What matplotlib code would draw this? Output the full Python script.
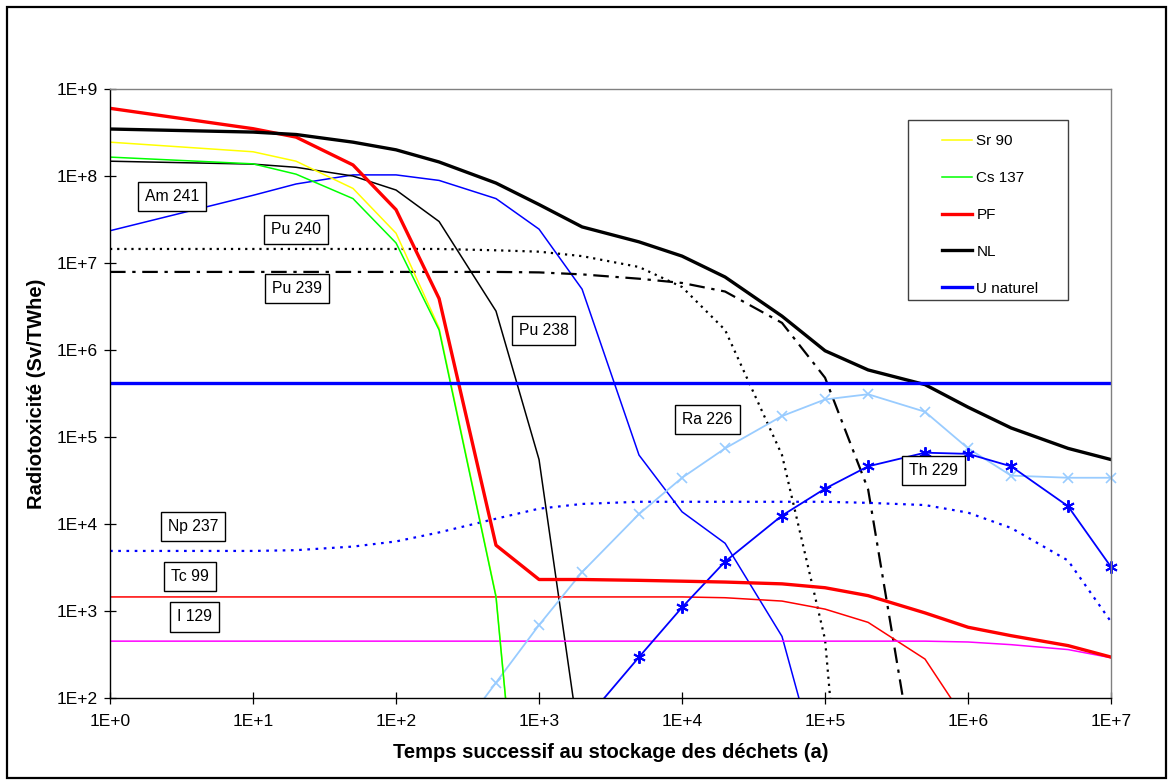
import numpy as np
import matplotlib
matplotlib.use("Agg")
import matplotlib.pyplot as plt
from matplotlib.patches import Rectangle

plt.rcParams['font.family'] = ['Liberation Sans', 'DejaVu Sans']

# Time after storage (years)
temps = [1, 10, 20, 50, 100, 200, 500, 1e3, 2e3, 5e3, 1e4, 2e4, 5e4,
         1e5, 2e5, 5e5, 1e6, 2e6, 5e6, 1e7]

# Radiotoxicity (Sv/TWhe)
sr90 = [2.45e8, 1.9e8, 1.48e8, 7.2e7, 2.2e7, 1.8e6, 1.5e3, 8e-3]
cs137 = [1.65e8, 1.38e8, 1.05e8, 5.5e7, 1.7e7, 1.7e6, 1.45e3, 8e-3]
pf = [6e8, 3.5e8, 2.8e8, 1.34e8, 4.1e7, 3.9e6, 5.7e3, 2.3e3, 2.3e3, 2.25e3,
      2.2e3, 2.15e3, 2.05e3, 1.85e3, 1.5e3, 9.5e2, 6.5e2, 5.2e2, 4e2, 2.95e2]
nl = [3.47e8, 3.2e8, 3.0e8, 2.45e8, 2.0e8, 1.45e8, 8.3e7, 4.7e7, 2.6e7,
      1.75e7, 1.2e7, 6.9e6, 2.45e6, 9.8e5, 5.9e5, 4e5, 2.2e5, 1.27e5, 7.4e4,
      5.5e4]
u_naturel = 4.2e5
am241 = [2.35e7, 6e7, 8.1e7, 1.03e8, 1.03e8, 8.9e7, 5.5e7, 2.45e7, 5e6,
         6.2e4, 1.38e4, 6e3, 5.1e2, 8]
pu238 = [1.48e8, 1.37e8, 1.26e8, 1e8, 6.9e7, 3e7, 2.8e6, 5.5e4, 1.9e1]
pu240 = [1.45e7, 1.45e7, 1.45e7, 1.45e7, 1.45e7, 1.45e7, 1.4e7, 1.35e7,
         1.2e7, 9e6, 5.3e6, 1.7e6, 6.2e4, 4.7e2, 1e-3]
pu239 = [7.9e6, 7.9e6, 7.9e6, 7.9e6, 7.9e6, 7.9e6, 7.9e6, 7.8e6, 7.4e6,
         6.6e6, 5.9e6, 4.7e6, 2.05e6, 4.8e5, 2.5e4, 3]
np237 = [4.9e3, 4.9e3, 5.0e3, 5.5e3, 6.3e3, 8e3, 1.15e4, 1.5e4, 1.7e4,
         1.8e4, 1.8e4, 1.8e4, 1.8e4, 1.8e4, 1.75e4, 1.65e4, 1.35e4, 9e3,
         3.8e3, 7.5e2]
tc99 = [1.45e3] * 11 + [1.42e3, 1.3e3, 1.05e3, 7.4e2, 2.8e2, 5e1]
i129 = [4.5e2] * 16 + [4.4e2, 4.1e2, 3.6e2, 2.9e2]
ra226 = [2e1, 1.5e2, 6.9e2, 2.8e3, 1.3e4, 3.4e4, 7.4e4, 1.74e5, 2.7e5,
         3.1e5, 1.95e5, 7.4e4, 3.6e4, 3.4e4, 3.4e4]
th229 = [5e1, 2.95e2, 1.1e3, 3.7e3, 1.25e4, 2.55e4, 4.6e4, 6.6e4, 6.4e4,
         4.6e4, 1.6e4, 3.2e3]

tick_vals_x = [1e0, 1e1, 1e2, 1e3, 1e4, 1e5, 1e6, 1e7]
tick_vals_y = [1e2, 1e3, 1e4, 1e5, 1e6, 1e7, 1e8, 1e9]

fig = plt.figure(figsize=(11.73, 7.83), dpi=100)
ax = fig.add_axes([0.0938, 0.1086, 0.8534, 0.7777])

# unlabelled curves (named by boxed text)
ax.plot(temps[:len(am241)], am241, color='#0000FF', lw=1.1)
ax.plot(temps[:len(pu238)], pu238, color='black', lw=1.1)
ax.plot(temps[:len(pu240)], pu240, color='black', lw=1.6, ls=(0, (1, 2.2)))
ax.plot(temps[:len(pu239)], pu239, color='black', lw=1.6, ls=(0, (7, 3, 1.5, 3)))
ax.plot(temps, np237, color='#0000FF', lw=1.6, ls=(0, (1.2, 2.5)))
ax.plot(temps[:len(tc99)], tc99, color='#FF0000', lw=1.1)
ax.plot(temps, i129, color='#FF00FF', lw=1.1)

# marker curves: lines clipped, markers inside the y range left unclipped
t_ra = np.array(temps[5:])
ra = np.array(ra226)
ax.plot(t_ra, ra, color='#99CCFF', lw=1.3)
ok = ra >= 1e2
ax.plot(t_ra[ok], ra[ok], ls='none', color='#99CCFF', marker='x', ms=7,
        mew=1.2, clip_on=False)
t_th = np.array(temps[8:])
th = np.array(th229)
ax.plot(t_th, th, color='#0000FF', lw=1.3)
ok = th >= 1e2
ax.plot(t_th[ok], th[ok], ls='none', color='#0000FF', marker=(6, 2, 0),
        ms=9, mew=1.4, clip_on=False)

# legend curves
ax.plot(temps[:len(sr90)], sr90, color='#FFFF00', lw=1.1, label='Sr 90')
ax.plot(temps[:len(cs137)], cs137, color='#00FF00', lw=1.1, label='Cs 137')
ax.plot(temps, pf, color='#FF0000', lw=2.4, label='PF')
ax.plot(temps, nl, color='black', lw=2.4, label='NL')
ax.plot([temps[0], temps[-1]], [u_naturel, u_naturel], color='#0000FF',
        lw=2.4, label='U naturel')

ax.set_xscale('log')
ax.set_yscale('log')
ax.set_xlim(1, 1e7)
ax.set_ylim(1e2, 1e9)
ax.set_xticks(tick_vals_x)
ax.set_xticklabels(['1E+%d' % i for i in range(8)])
ax.set_yticks(tick_vals_y)
ax.set_yticklabels(['1E+%d' % i for i in range(2, 10)])
ax.minorticks_off()
ax.tick_params(direction='inout', length=9, width=0.9, labelsize=12.5,
               pad=4)
ax.tick_params(axis='x', pad=7)
for side in ['top', 'right']:
    ax.spines[side].set_color('#808080')
for sp in ax.spines.values():
    sp.set_linewidth(1.0)

ax.set_xlabel('Temps successif au stockage des déchets (a)',
              fontsize=14.5, fontweight='bold', labelpad=10)
ax.set_ylabel('Radiotoxicité (Sv/TWhe)', fontsize=14.5, fontweight='bold',
              labelpad=8)

# legend entries without their own frame; the box is drawn separately
leg = ax.legend(loc='upper left', bbox_to_anchor=(0.831, 0.926),
                fontsize=11, frameon=False, handlelength=2.0,
                handletextpad=0.25, labelspacing=1.5, borderpad=0,
                borderaxespad=0)
ax.add_patch(Rectangle((0.797, 0.654), 0.160, 0.295, transform=ax.transAxes,
                       fill=False, ec='#404040', lw=1.0, zorder=5))

# boxed curve names
names = ['Am 241', 'Pu 240', 'Pu 239', 'Pu 238', 'Ra 226', 'Th 229',
         'Np 237', 'Tc 99', 'I 129']
name_pos = [(0.062, 0.824), (0.186, 0.770), (0.187, 0.672), (0.433, 0.604),
            (0.597, 0.458), (0.823, 0.374), (0.083, 0.281), (0.080, 0.199),
            (0.084, 0.133)]
for name, (px, py) in zip(names, name_pos):
    ax.text(px, py, name, transform=ax.transAxes, fontsize=11.3,
            ha='center', va='center',
            bbox=dict(boxstyle='square,pad=0.45', fc='white', ec='black',
                      lw=1.0))

# outer frame
fig.patches.append(Rectangle((7 / 1173, 5 / 783), 1159 / 1173, 771 / 783,
                             transform=fig.transFigure, fill=False,
                             ec='black', lw=1.6))

fig.savefig('out.png', dpi=100)
